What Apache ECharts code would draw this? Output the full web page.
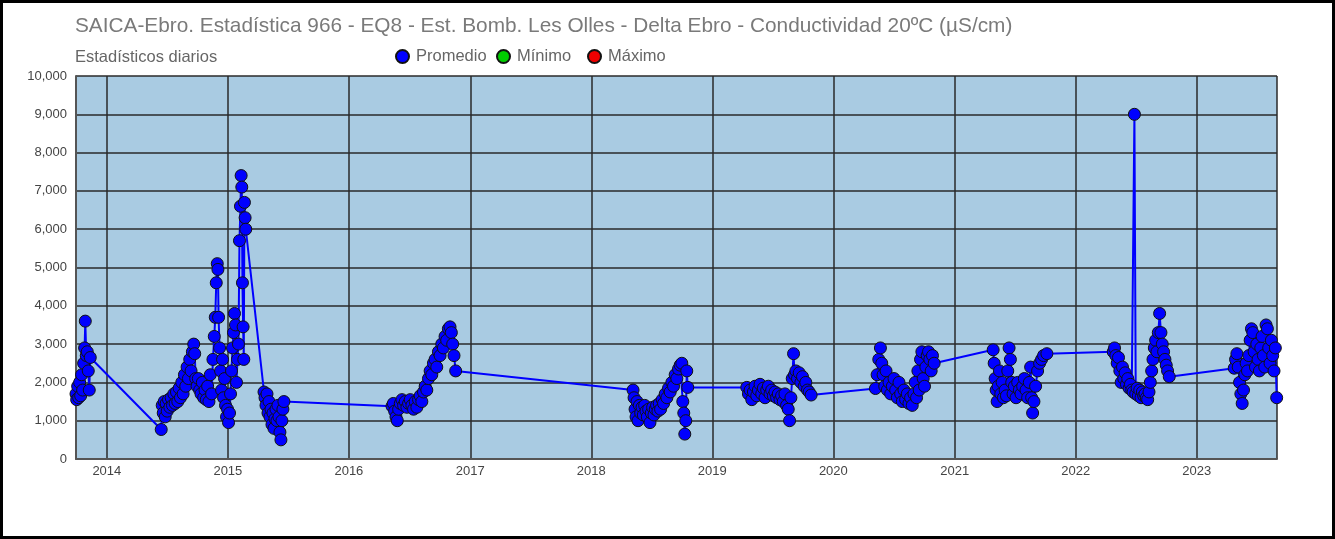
<!DOCTYPE html>
<html>
<head>
<meta charset="utf-8">
<script src="https://cdn.jsdelivr.net/npm/echarts/dist/echarts.min.js"></script>
<style>
  html, body { margin:0; padding:0; background:#fff; }
  #chart { position:absolute; left:0; top:0; width:1335px; height:539px; }
  #frame { position:absolute; left:0; top:0; width:1335px; height:539px; box-sizing:border-box; border:3px solid #000; pointer-events:none; }
</style>
</head>
<body>
<div id="chart"></div>
<div id="frame"></div>
<script>
const chartTitle = 'SAICA-Ebro. Estadística 966 - EQ8 - Est. Bomb. Les Olles - Delta Ebro - Conductividad 20ºC (µS/cm)';
const chartSubtitle = 'Estadísticos diarios';
const seriesNames = ['Promedio', 'Mínimo', 'Máximo'];
const axisMin = '2013-09-30';
const axisMax = '2023-08-31';
const yTicks = [0, 1000, 2000, 3000, 4000, 5000, 6000, 7000, 8000, 9000, 10000];

const d2013 = ['2013-09-30','2013-10-02','2013-10-05','2013-10-08','2013-10-11','2013-10-14','2013-10-17','2013-10-20','2013-10-23','2013-10-26','2013-10-28','2013-10-31','2013-11-03','2013-11-06','2013-11-09','2013-11-12'];
const v2013 = [1700,1550,1900,1600,2000,1650,2200,1800,2500,2900,3600,2700,2800,2300,1800,2650];

const d2014 = ['2014-06-14','2014-06-17','2014-06-20','2014-06-23','2014-06-26','2014-06-29','2014-07-02','2014-07-06','2014-07-10','2014-07-14','2014-07-18','2014-07-22','2014-07-26','2014-07-30','2014-08-03','2014-08-07','2014-08-11','2014-08-15','2014-08-19','2014-08-23','2014-08-27','2014-08-31','2014-09-04','2014-09-08','2014-09-12','2014-09-16','2014-09-20','2014-09-23','2014-09-26','2014-09-30','2014-10-04','2014-10-08','2014-10-12','2014-10-16','2014-10-20','2014-10-24','2014-10-28','2014-11-01','2014-11-05','2014-11-09','2014-11-13','2014-11-17','2014-11-21','2014-11-24','2014-11-27','2014-11-30','2014-12-02','2014-12-04','2014-12-07','2014-12-10','2014-12-13','2014-12-16','2014-12-19','2014-12-22','2014-12-25','2014-12-28','2014-12-31','2015-01-03','2015-01-06','2015-01-09','2015-01-12','2015-01-15','2015-01-18','2015-01-21','2015-01-24','2015-01-27','2015-01-30','2015-02-02','2015-02-05','2015-02-08','2015-02-10','2015-02-12','2015-02-14','2015-02-16','2015-02-18','2015-02-20','2015-02-22','2015-02-24'];
const v2014 = [770,1400,1200,1500,1100,1450,1250,1550,1350,1600,1400,1700,1450,1750,1500,1850,1600,2000,1700,2200,1900,2400,2100,2600,2300,2800,3000,2750,2100,1900,2100,1800,1700,2000,1600,1800,1550,1900,1500,2200,1700,2600,3200,3700,4600,5100,4950,3700,2900,2300,1800,2600,1600,2100,1400,1100,1300,950,1200,1700,2300,2900,3300,3800,3500,2000,2600,3000,5700,6600,7400,7100,4600,3450,2600,6700,6300,6000];

const d2015 = ['2015-04-20','2015-04-23','2015-04-26','2015-04-29','2015-05-02','2015-05-05','2015-05-08','2015-05-11','2015-05-14','2015-05-17','2015-05-20','2015-05-23','2015-05-26','2015-05-29','2015-06-01','2015-06-04','2015-06-07','2015-06-10','2015-06-13','2015-06-16','2015-06-19'];
const v2015 = [1750,1600,1400,1700,1200,1500,1100,1300,900,1200,800,1050,1300,1000,1400,1100,700,500,1000,1300,1500];

const d2016 = ['2016-05-10','2016-05-14','2016-05-18','2016-05-22','2016-05-26','2016-05-30','2016-06-04','2016-06-09','2016-06-14','2016-06-19','2016-06-24','2016-06-29','2016-07-04','2016-07-09','2016-07-14','2016-07-19','2016-07-24','2016-07-29','2016-08-03','2016-08-08','2016-08-13','2016-08-18','2016-08-23','2016-08-28','2016-09-02','2016-09-07','2016-09-12','2016-09-17','2016-09-22','2016-09-27','2016-10-02','2016-10-07','2016-10-12','2016-10-17','2016-10-22','2016-10-27','2016-11-01','2016-11-05','2016-11-09','2016-11-13','2016-11-18'];
const v2016 = [1380,1450,1250,1100,1000,1300,1450,1550,1400,1500,1350,1450,1550,1400,1300,1500,1350,1550,1650,1500,1750,1900,1800,2100,2300,2200,2500,2600,2400,2800,2700,3000,2900,3200,3100,3400,3450,3300,3000,2700,2300];

const d2018 = ['2018-05-07','2018-05-10','2018-05-13','2018-05-16','2018-05-19','2018-05-22','2018-05-26','2018-05-30','2018-06-03','2018-06-07','2018-06-11','2018-06-15','2018-06-19','2018-06-23','2018-06-27','2018-07-01','2018-07-05','2018-07-09','2018-07-13','2018-07-17','2018-07-21','2018-07-25','2018-07-29','2018-08-03','2018-08-07','2018-08-12','2018-08-17','2018-08-22','2018-08-27','2018-09-01','2018-09-06','2018-09-11','2018-09-16','2018-09-21','2018-09-26','2018-10-01','2018-10-04','2018-10-07','2018-10-10','2018-10-13','2018-10-16','2018-10-19'];
const v2018 = [1800,1600,1300,1100,1500,1000,1400,1200,1350,1150,1400,1250,1100,1300,950,1200,1350,1150,1300,1400,1250,1450,1300,1550,1450,1700,1600,1850,1750,2000,1900,2200,2100,2350,2450,2500,1500,1200,650,1000,2300,1870];

const d2019 = ['2019-04-15','2019-04-20','2019-04-25','2019-04-30','2019-05-05','2019-05-10','2019-05-15','2019-05-20','2019-05-25','2019-05-30','2019-06-04','2019-06-09','2019-06-14','2019-06-19','2019-06-24','2019-06-29','2019-07-04','2019-07-09','2019-07-14','2019-07-19','2019-07-24','2019-07-29','2019-08-03','2019-08-08','2019-08-13','2019-08-18','2019-08-22','2019-08-26','2019-08-30','2019-09-03','2019-09-06','2019-09-10','2019-09-15','2019-09-20','2019-09-25','2019-09-30','2019-10-05','2019-10-10','2019-10-15','2019-10-20','2019-10-26'];
const v2019 = [1870,1700,1800,1550,1750,1900,1650,1800,1950,1700,1850,1600,1800,1900,1700,1800,1650,1750,1600,1700,1550,1650,1500,1700,1400,1300,1000,1600,2100,2750,2200,2300,2100,2250,2000,2150,1900,2000,1800,1750,1670];

const d2020 = ['2020-05-07','2020-05-12','2020-05-17','2020-05-22','2020-05-26','2020-05-30','2020-06-04','2020-06-08','2020-06-12','2020-06-17','2020-06-22','2020-06-27','2020-07-02','2020-07-07','2020-07-12','2020-07-17','2020-07-22','2020-07-27','2020-08-01','2020-08-06','2020-08-11','2020-08-16','2020-08-21','2020-08-26','2020-08-31','2020-09-04','2020-09-08','2020-09-12','2020-09-16','2020-09-20','2020-09-24','2020-09-28','2020-10-02','2020-10-06','2020-10-10','2020-10-14','2020-10-18','2020-10-22','2020-10-26','2020-10-31'];
const v2020 = [1840,2200,2600,2900,2500,2200,1900,2300,1800,2000,1700,1900,2100,1800,1600,2000,1700,1500,1800,1550,1700,1450,1600,1400,1700,2000,1600,2300,1800,2600,2800,2100,1900,2400,2700,2800,2600,2300,2700,2500];

const d2021 = ['2021-04-27','2021-04-30','2021-05-03','2021-05-06','2021-05-09','2021-05-12','2021-05-16','2021-05-20','2021-05-24','2021-05-28','2021-06-02','2021-06-06','2021-06-10','2021-06-14','2021-06-18','2021-06-22','2021-06-26','2021-06-30','2021-07-05','2021-07-10','2021-07-15','2021-07-20','2021-07-25','2021-07-30','2021-08-04','2021-08-09','2021-08-14','2021-08-18','2021-08-21','2021-08-24','2021-08-28','2021-09-02','2021-09-08','2021-09-14','2021-09-20','2021-09-26','2021-10-06'];
const v2021 = [2850,2500,2100,1800,1500,1900,2300,1700,2000,1600,1800,1650,2300,2900,2600,2000,1700,1900,1600,2000,1800,1700,1900,2100,1800,1600,2000,2400,1600,1200,1500,1900,2300,2500,2600,2700,2750];

const d2022 = ['2022-04-24','2022-04-28','2022-05-02','2022-05-06','2022-05-10','2022-05-14','2022-05-18','2022-05-22','2022-05-26','2022-05-30','2022-06-03','2022-06-07','2022-06-11','2022-06-15','2022-06-19','2022-06-23','2022-06-27','2022-07-01','2022-07-05','2022-07-09','2022-07-13','2022-07-17','2022-07-21','2022-07-25','2022-07-29','2022-08-02','2022-08-06','2022-08-10','2022-08-14','2022-08-18','2022-08-22','2022-08-26','2022-08-30','2022-09-03','2022-09-07','2022-09-11','2022-09-15','2022-09-19','2022-09-23','2022-09-27','2022-10-01','2022-10-05','2022-10-10'];
const v2022 = [2800,2900,2700,2500,2650,2300,2000,2400,2100,2250,1950,2100,1850,1950,1800,1750,9000,1700,1850,1650,1800,1600,1750,1650,1700,1600,1550,1750,2000,2300,2600,2900,3100,2800,3300,3800,3300,3000,2800,2600,2450,2300,2150];

const d2023 = ['2023-04-24','2023-04-28','2023-05-02','2023-05-06','2023-05-10','2023-05-14','2023-05-18','2023-05-22','2023-05-26','2023-05-30','2023-06-03','2023-06-07','2023-06-11','2023-06-15','2023-06-19','2023-06-23','2023-06-27','2023-07-01','2023-07-05','2023-07-09','2023-07-13','2023-07-17','2023-07-21','2023-07-25','2023-07-29','2023-08-02','2023-08-06','2023-08-10','2023-08-14','2023-08-18','2023-08-22','2023-08-26','2023-08-30'];
const v2023 = [2370,2600,2750,2400,2000,1700,1450,1800,2200,2500,2300,2700,3100,3400,3300,2800,2400,3000,2600,2300,2900,3200,2700,2400,3500,3400,2900,2500,3100,2700,2300,2900,1600];

const allDates = [].concat(d2013, d2014, d2015, d2016, d2018, d2019, d2020, d2021, d2022, d2023);
const allValues = [].concat(v2013, v2014, v2015, v2016, v2018, v2019, v2020, v2021, v2022, v2023);
const promedio = allDates.map((d, i) => [d, allValues[i]]);

const FONT = 'Arial, "Liberation Sans", sans-serif';
const chart = echarts.init(document.getElementById('chart'), null, { renderer: 'canvas' });
const legendItem = (name, left) => ({
  data: [name], left: left, top: 43, icon: 'circle', itemWidth: 13, itemHeight: 13, itemGap: 0,
  textStyle: { color: '#666', fontSize: 16.5, fontFamily: FONT, padding: [0, 0, 0, 2] }, selectedMode: false
});
chart.setOption({
  animation: false,
  backgroundColor: '#ffffff',
  title: [
    { text: chartTitle, left: 70, top: 11, textStyle: { color: '#7a7a7a', fontSize: 20.8, fontWeight: 'normal', fontFamily: FONT } },
    { text: chartSubtitle, left: 70, top: 44, textStyle: { color: '#666', fontSize: 16.5, fontWeight: 'normal', fontFamily: FONT } }
  ],
  legend: [
    legendItem(seriesNames[0], 390),
    legendItem(seriesNames[1], 491),
    legendItem(seriesNames[2], 582)
  ],
  grid: { left: 76, right: 58, top: 76, bottom: 80, show: true, backgroundColor: '#a9cbe2', borderWidth: 0, containLabel: false },
  xAxis: {
    type: 'time', min: axisMin, max: axisMax,
    minInterval: 365 * 24 * 3600 * 1000, maxInterval: 366 * 24 * 3600 * 1000,
    axisLine: { show: true, lineStyle: { color: '#555', width: 2 } },
    axisTick: { show: false },
    splitLine: { show: true, lineStyle: { color: '#2a2a2a', width: 1.5 } },
    axisLabel: {
      color: '#444', fontSize: 13, fontFamily: FONT, margin: 6,
      showMinLabel: false, showMaxLabel: false,
      formatter: (v) => String(new Date(v).getFullYear())
    }
  },
  yAxis: {
    type: 'value', min: yTicks[0], max: yTicks[yTicks.length - 1], interval: 1000,
    axisLine: { show: true, lineStyle: { color: '#555', width: 2 } },
    axisTick: { show: false },
    splitLine: { show: true, lineStyle: { color: '#2a2a2a', width: 1.5 } },
    axisLabel: { color: '#444', fontSize: 13, fontFamily: FONT, margin: 9,
      formatter: (v) => v.toLocaleString('en-US') }
  },
  series: [
    { name: seriesNames[0], type: 'line', data: promedio, showAllSymbol: true, symbol: 'circle', symbolSize: 12,
      lineStyle: { color: '#0000ff', width: 2 },
      itemStyle: { color: '#0000ff', borderColor: '#111', borderWidth: 1 }, z: 3 },
    { name: seriesNames[1], type: 'line', data: [], symbol: 'circle',
      lineStyle: { color: '#00cc00' }, itemStyle: { color: '#00cc00', borderColor: '#111', borderWidth: 1 } },
    { name: seriesNames[2], type: 'line', data: [], symbol: 'circle',
      lineStyle: { color: '#ee0000' }, itemStyle: { color: '#ee0000', borderColor: '#111', borderWidth: 1 } }
  ]
});
</script>
</body>
</html>
